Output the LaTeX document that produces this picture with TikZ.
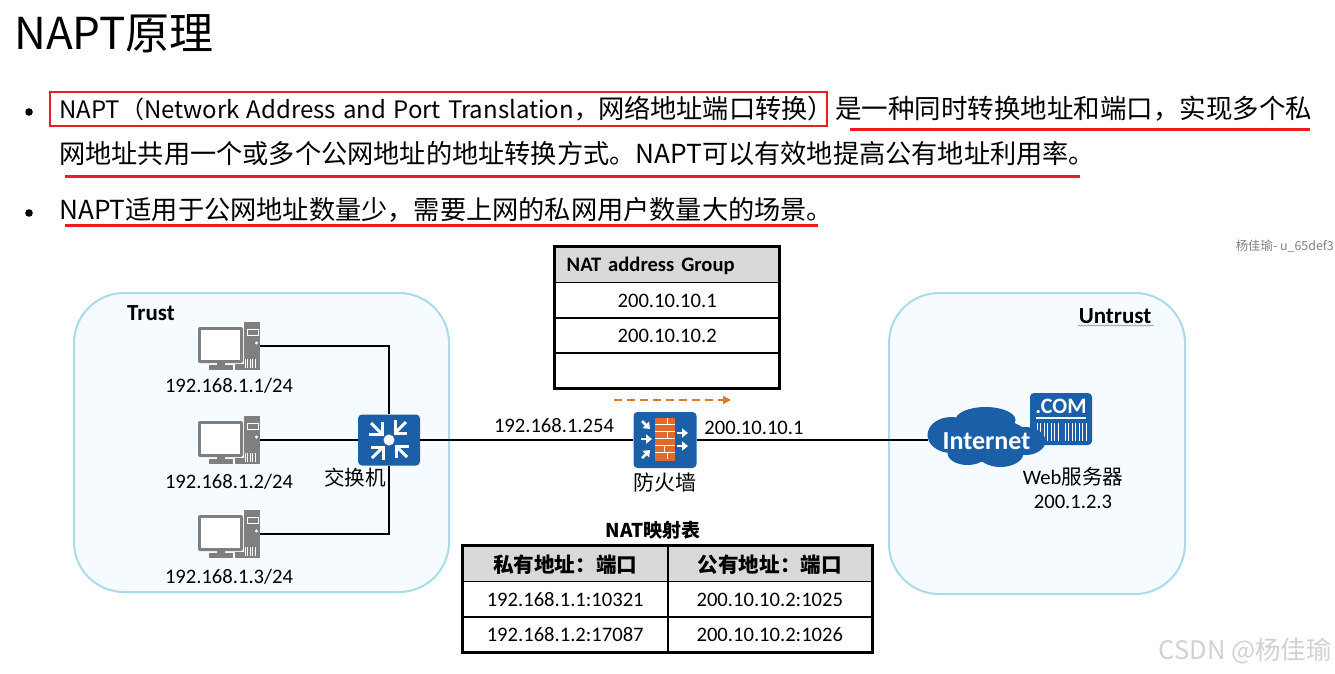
\documentclass[tikz,border=0pt]{standalone}
\usepackage{fontspec}
\usepackage{xcolor}
\setmainfont{Carlito}
\newfontfamily\cjk{Noto Sans CJK SC}
\usetikzlibrary{arrows.meta}
\usetikzlibrary{decorations.pathmorphing}
\definecolor{zoneline}{HTML}{A9DCEA}
\definecolor{zonefill}{HTML}{F5FBFE}
\definecolor{iconblue}{HTML}{1A5FA8}
\definecolor{brick}{HTML}{E0692D}
\definecolor{pcgray}{HTML}{7F7F7F}
\definecolor{markred}{HTML}{ED1C24}
\definecolor{headgray}{HTML}{D9D9D9}
\definecolor{flowarrow}{HTML}{D97B29}

\begin{document}
\begin{tikzpicture}[
  x=1pt,y=-1pt,
  bodytext/.style={anchor=base west,inner sep=0pt,font=\cjk\fontsize{26.2}{26}\selectfont},
  zone/.style={draw=zoneline,fill=zonefill,line width=2pt,rounded corners=50pt},
  zonelabel/.style={inner sep=0pt,font=\bfseries\fontsize{23}{23}\selectfont},
  iplabel/.style={inner sep=0pt,font=\fontsize{20.6}{20}\selectfont},
  zhlabel/.style={inner sep=0pt,font=\cjk\fontsize{20.6}{20}\selectfont},
  redmark/.style={draw=markred,line width=3pt},
  iconbox/.style={fill=iconblue,rounded corners=4pt,inner sep=0pt},
  pcbox/.style={inner sep=0pt,minimum width=62pt,minimum height=48pt},
  cell/.style={draw,line width=1.2pt,inner sep=0pt,text height=14pt,text depth=0pt,font=\fontsize{20.6}{20}\selectfont},
  headcell/.style={cell,fill=headgray,font=\bfseries\fontsize{20.6}{20}\selectfont},
  groupcell/.style={minimum width=223.5pt,minimum height=35.5pt},
  mapcell/.style={minimum width=204.5pt,minimum height=35.2pt},
  outline/.style={draw,line width=3pt},
  link/.style={draw,line width=1.8pt},
  pics/pcicon/.style={code={
    \fill[pcgray] (15,-24) rectangle (31,24);
    \fill[pcgray] (6,18) rectangle (31,24);
    \draw[white,line width=.8pt] (18,-17) rectangle (29,-11);
    \fill[white] (27.5,-3) circle (1.6);
    \foreach \vx in {16,18.5,21,23.5,26} {\draw[white,line width=.7pt] (\vx,13) -- (\vx,22);}
    \fill[white] (13,-24) rectangle (15,18);
    \fill[white] (4,18) rectangle (6,24);
    \fill[pcgray,rounded corners=2pt] (-31,-19) rectangle (14,17);
    \fill[white] (-28,-16) rectangle (11,14);
    \fill[pcgray] (-12,17) rectangle (-4,19);
    \fill[pcgray] (-20,19) rectangle (4,24);
  }},
  pics/switchicon/.style={code={
    \fill[white] (0,0) circle (5.5);
    \foreach \ang in {0,90,180,270} {
      \begin{scope}[rotate=\ang]
        \draw[white,line width=3pt] (-20,-6) -- (-7,-6) -- (-7,-18);
        \draw[white,line width=3pt] (-18,-17) -- (-8,-7);
      \end{scope}
    }
  }},
  pics/wallicon/.style={code={
    \fill[brick] (-10,-22) rectangle (10,21);
    \foreach \wy in {-16,-9,-2,5,12} {\draw[white,line width=1pt] (-10,\wy) -- (10,\wy);}
    \foreach \wy/\wx in {-22/2,-9/2,5/-1,12/2} {\draw[white,line width=.8pt] (\wx,\wy) -- (\wx,\wy+7);}
    \foreach \ax/\ay/\bx/\by in {-23/-19/-15/-11,-24/-1/-13/-1,-23/18/-15/10,12/-7/23/-7,12/6/23/6} {
      \draw[white,line width=2.5pt,-{Triangle[length=6pt,width=9pt]}] (\ax,\ay) -- (\bx,\by);
    }
  }},
  pics/cloudicon/.style={code={
    \fill[iconblue] (-1,-20) ellipse (30 and 13);
    \fill[iconblue] (-35,-5) ellipse (24 and 18);
    \fill[iconblue] (-19,13) ellipse (20 and 12);
    \fill[iconblue] (14,13) ellipse (23 and 14);
    \fill[iconblue] (39,1) ellipse (20 and 14);
    \fill[iconblue] (0,0) ellipse (44 and 22);
  }}
]
\useasboundingbox (0,0) rectangle (1335,673);

% Title and bullets
\node[anchor=base west,inner sep=0pt,font=\cjk\fontsize{44}{44}\selectfont] (title) at (14,49) {NAPT原理};
\fill (29,112) circle (3.8);
\fill (29,213) circle (3.8);
\node[bodytext,font=\cjk\fontsize{24}{24}\selectfont] (line1a) at (59,118)
  {\makebox[772pt][s]{NAPT（Network\ \ Address\ \ and\ \ Port\ \ Translation，{\fontsize{26.2}{26}\selectfont 网络地址端口转换）}}};
\node[bodytext,font=\cjk\fontsize{26.5}{26}\selectfont] (line1b) at (835,118) {是一种同时转换地址和端口，实现多个私};
\node[bodytext] (line2) at (59,163) {网地址共用一个或多个公网地址的地址转换方式。NAPT可以有效地提高公有地址利用率。};
\node[bodytext] (line3) at (59,219) {NAPT适用于公网地址数量少，需要上网的私网用户数量大的场景。};
\draw[redmark,line width=2.2pt] (50,92) rectangle (827,126);
\draw[redmark] (850,129) -- (1310,129);
\draw[redmark] (65,176) -- (1080,176);
\draw[redmark] (65,225) -- (818,225);
\node[anchor=east,inner sep=0pt,text=gray,font=\cjk\fontsize{12.4}{12}\selectfont] (stamp) at (1334,246) {杨佳瑜- u\_65def3};

% Zones
\draw[zone] (74,293) rectangle (449,592);
\draw[zone] (889,293) rectangle (1185,594);
\node[zonelabel] (trust) at (151,313) {Trust};
\node[zonelabel] (untrust) at (1115,316) {Untrust};
\draw[red!60,line width=.6pt,decorate,decoration={snake,amplitude=.6pt,segment length=3pt}] (1078,325.5) -- (1153,325.5);

% Left side
\node[pcbox] (pc1) at (229,346) {};
\node[pcbox] (pc2) at (229,440) {};
\node[pcbox] (pc3) at (229,534) {};
\pic at (pc1) {pcicon};
\pic at (pc2) {pcicon};
\pic at (pc3) {pcicon};
\node[iplabel] (ip1) at (229,386) {192.168.1.1/24};
\node[iplabel] (ip2) at (229,482) {192.168.1.2/24};
\node[iplabel] (ip3) at (229,577) {192.168.1.3/24};
\node[iconbox,minimum width=62pt,minimum height=51pt] (switch) at (389,440) {};
\pic at (switch) {switchicon};
\node[zhlabel] (switchname) at (355,478) {交换机};
\path[link] (pc1.east) -| (switch.north);
\path[link] (pc3.east) -| (switch.south);
\path[link] (pc2.east) -- (pc2.east -| switch.west);

% Firewall
\node[iconbox,minimum width=63pt,minimum height=56pt] (firewall) at (665,440) {};
\pic at (firewall) {wallicon};
\node[zhlabel,font=\cjk\fontsize{21}{21}\selectfont] (firewallname) at (665,483) {防火墙};
\node[iplabel] (inside) at (554,426) {192.168.1.254};
\node[iplabel] (outside) at (754,428) {200.10.10.1};
\path[link] (switch.east) -- (firewall.west);
\coordinate (flowa) at (614,400);
\coordinate (flowb) at (731,400);
\draw[flowarrow,line width=1.5pt,dash pattern=on 8pt off 5pt,-{Triangle[length=8pt,width=8pt]}] (flowa) -- (flowb);

% NAT address group
\node[headcell,groupcell,text width=201pt] (grouphead) at (667.2,264.6) {NAT address Group};
\node[cell,groupcell] (group1) at (667.2,300.2) {200.10.10.1};
\node[cell,groupcell] (group2) at (667.2,335.2) {200.10.10.2};
\node[cell,groupcell] (group3) at (667.2,370.1) {};
\draw[outline] (grouphead.north west) rectangle (group3.south east);

% Right side
\node[iconbox,minimum width=62pt,minimum height=52pt] (server) at (1061,419) {};
\node[anchor=center,inner sep=0pt,text=white,font=\bfseries\fontsize{22}{22}\selectfont] (comtext) at (1061,406) {.COM};
\draw[white,line width=1.5pt] (1036,418) -- (1086,418);
\foreach \sx in {1037,1040.5,1044,1047.5,1051,1054.5,1058,1065,1068.5,1072,1075.5,1079,1082.5,1086} {\draw[white,line width=1pt] (\sx,423) -- (\sx,441);}
\node[inner sep=0pt,minimum width=117pt,minimum height=58pt] (internet) at (986.5,440) {};
\pic at (internet) {cloudicon};
\node[inner sep=0pt,text=white,font=\bfseries\fontsize{26}{26}\selectfont] (internetname) at (986.5,441) {Internet};
\node[iplabel] (webname) at (1073,477) {Web{\cjk 服务器}};
\node[iplabel] (webip) at (1073,502) {200.1.2.3};
\path[link] (firewall.east) -- (internet.west);

% NAT mapping table
\node[inner sep=0pt,font=\bfseries\fontsize{19}{19}\selectfont] (maptitle) at (653,530) {\cjk NAT映射表};
\node[headcell,mapcell,text height=16.5pt] (mapa) at (565.2,564.1) {\cjk 私有地址：端口};
\node[headcell,mapcell,text height=16.5pt] (mapb) at (769.8,564.1) {\cjk 公有地址：端口};
\node[cell,mapcell] (mapa1) at (565.2,599.3) {192.168.1.1:10321};
\node[cell,mapcell] (mapb1) at (769.8,599.3) {200.10.10.2:1025};
\node[cell,mapcell] (mapa2) at (565.2,634.5) {192.168.1.2:17087};
\node[cell,mapcell] (mapb2) at (769.8,634.5) {200.10.10.2:1026};
\draw[outline] (mapa.north west) rectangle (mapb2.south east);
\draw[line width=2pt] (mapa.north east) -- (mapa2.south east);

% Watermark
\node[anchor=east,inner sep=0pt,text=black!18,font=\cjk\fontsize{25.5}{25}\selectfont] (mark) at (1332,651) {CSDN @杨佳瑜};
\end{tikzpicture}
\end{document}
